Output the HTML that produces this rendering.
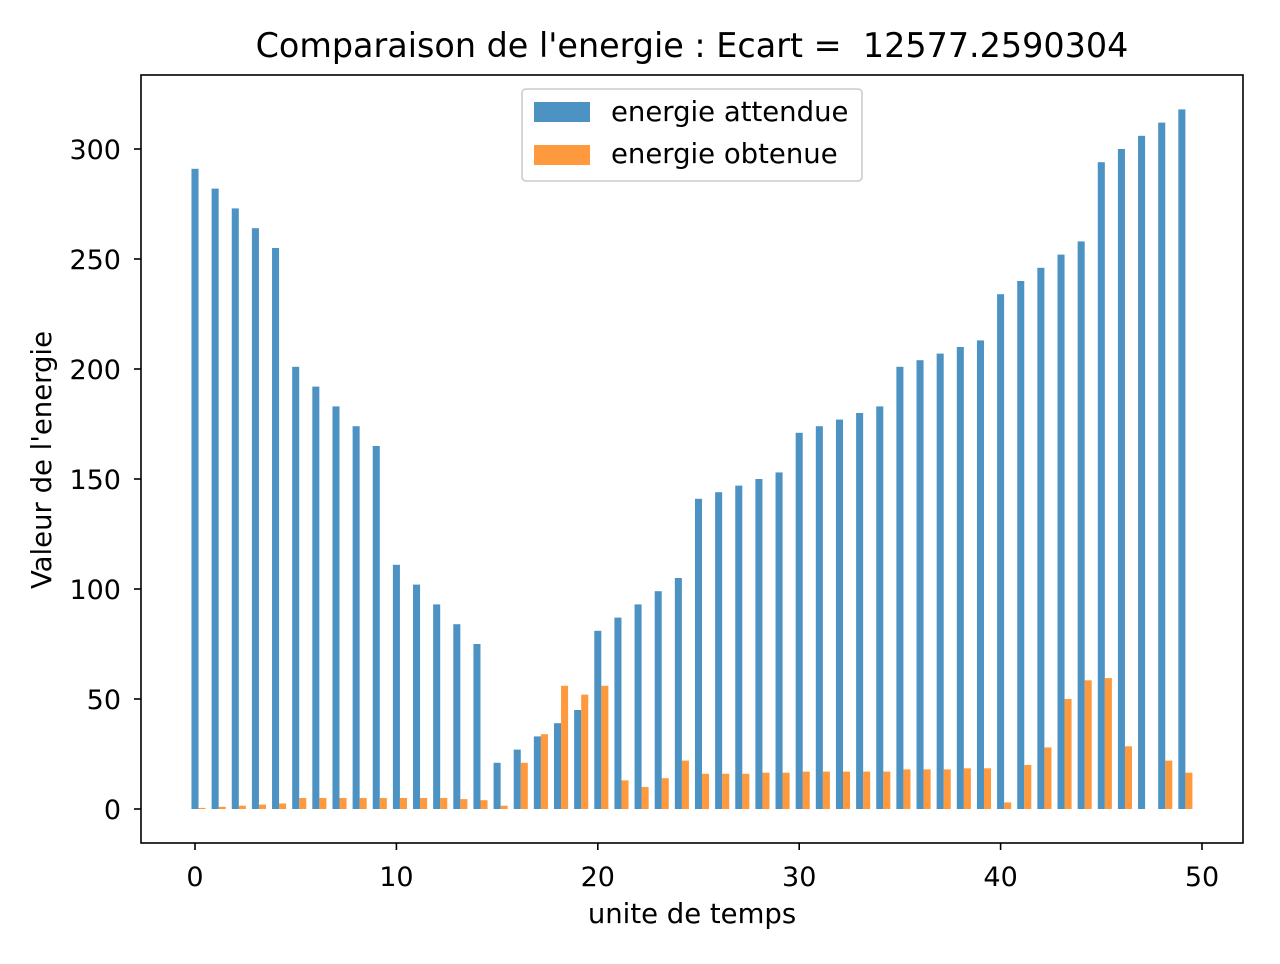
<!DOCTYPE html>
<html><head><meta charset="utf-8"><style>
body{margin:0;background:#fff;font-family:"DejaVu Sans","Liberation Sans",sans-serif}
</style></head><body>
<svg id="c" width="1280" height="960" xmlns="http://www.w3.org/2000/svg">
<rect width="1280" height="960" fill="#fff"/>
<text x="692" y="57" font-size="33.4" text-anchor="middle" style="white-space:pre" xml:space="preserve">Comparaison de l'energie : Ecart =  12577.2590304</text>
<g id="bars"></g>
<rect x="141" y="75" width="1102" height="768" fill="none" stroke="#000" stroke-width="1.6"/>
<g id="ticks" font-size="27"></g>
<text x="692" y="923" font-size="27.5" text-anchor="middle">unite de temps</text>
<text transform="translate(51,460) rotate(-90)" font-size="27.5" text-anchor="middle">Valeur de l'energie</text>
<g>
<rect x="522" y="89" width="340" height="92" rx="4" fill="#fff" fill-opacity="0.8" stroke="#ccc" stroke-width="1.6"/>
<rect x="534" y="102" width="56" height="20" fill="#1f77b4" fill-opacity="0.8"/>
<text x="611" y="121" font-size="27.5">energie attendue</text>
<rect x="534" y="145" width="56" height="20" fill="#ff7f0e" fill-opacity="0.8"/>
<text x="611" y="163" font-size="27.5">energie obtenue</text>
</g>
</svg>
<script>
const attendue=[291,282,273,264,255,201,192,183,174,165,111,102,93,84,75,21,27,33,39,45,81,87,93,99,105,141,144,147,150,153,171,174,177,180,183,201,204,207,210,213,234,240,246,252,258,294,300,306,312,318];
const obtenue=[0.5,1,1.5,2,2.5,5,5,5,5,5,5,5,5,4.5,4,1.5,21,34,56,52,56,13,10,14,22,16,16,16,16.5,16.5,17,17,17,17,17,18,18,18,18.5,18.5,3,20,28,50,58.5,59.5,28.5,0,22,16.5];
const xTicks=[0,10,20,30,40,50];
const yTicks=[0,50,100,150,200,250,300];
const NS="http://www.w3.org/2000/svg";
const xs=v=>195+v*20.14;
const ys=v=>809-v*2.2;
const W=0.35;
const bars=document.getElementById('bars');
function bar(x,v,color,name){
  const r=document.createElementNS(NS,'rect');
  r.setAttribute('x',xs(x-W/2));r.setAttribute('width',W*20.14);
  r.setAttribute('y',Math.min(ys(v),ys(0)));r.setAttribute('height',Math.abs(ys(0)-ys(v)));
  r.setAttribute('fill',color);r.setAttribute('fill-opacity','0.8');
  
  
  bars.appendChild(r);
}
attendue.forEach((v,i)=>bar(i,v,'#1f77b4','bar-attendue-'+i));
obtenue.forEach((v,i)=>bar(i+W,v,'#ff7f0e','bar-obtenue-'+i));
const t=document.getElementById('ticks');
xTicks.forEach(v=>{
  const l=document.createElementNS(NS,'line');
  l.setAttribute('x1',xs(v));l.setAttribute('x2',xs(v));l.setAttribute('y1',843);l.setAttribute('y2',850);l.setAttribute('stroke','#000');l.setAttribute('stroke-width','1.6');
  
  
  t.appendChild(l);
  const s=document.createElementNS(NS,'text');
  s.setAttribute('x',xs(v));s.setAttribute('y',886);s.setAttribute('text-anchor','middle');s.textContent=v;
  
  
  t.appendChild(s);
});
yTicks.forEach(v=>{
  const l=document.createElementNS(NS,'line');
  l.setAttribute('x1',134);l.setAttribute('x2',141);l.setAttribute('y1',ys(v));l.setAttribute('y2',ys(v));l.setAttribute('stroke','#000');l.setAttribute('stroke-width','1.6');
  
  
  t.appendChild(l);
  const s=document.createElementNS(NS,'text');
  s.setAttribute('x',121);s.setAttribute('y',ys(v)+10);s.setAttribute('text-anchor','end');s.textContent=v;
  
  
  t.appendChild(s);
});
</script>
</body></html>
